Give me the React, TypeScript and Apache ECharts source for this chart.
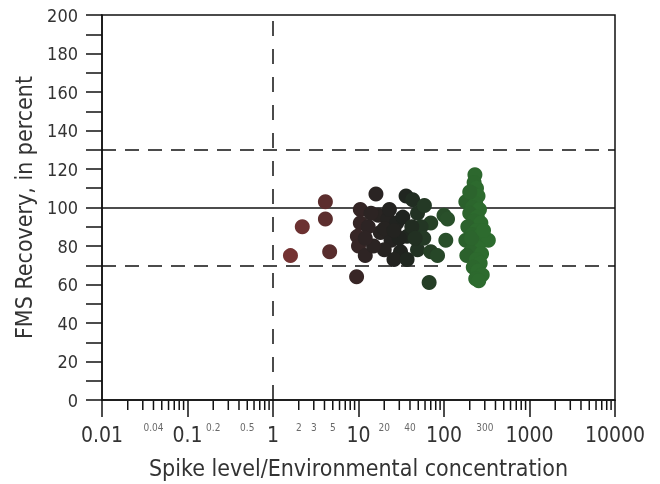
import React, { useEffect, useRef } from "react";
import * as echarts from "echarts";

const FONT = '"Liberation Sans Narrow", "DejaVu Sans Condensed", "Roboto Condensed", "Noto Sans", sans-serif';

// Spike level / environmental concentration ratio and FMS recovery (percent)
const lowRatio = [1.6, 2.2, 4.1, 4.1, 4.6];
const lowRecovery = [75, 90, 103, 94, 77];

const midRatio = [9.5, 16, 10.5, 10.5, 9.7, 10, 12, 17, 22, 28, 18, 24, 20, 31, 37, 15, 26, 37, 13, 14, 20, 23, 30, 33, 26, 12];
const midRecovery = [64, 107, 99, 92, 85, 80, 75, 96, 94, 92, 87, 83, 78, 77, 85, 80, 73, 73, 90, 97, 89, 99, 84, 95, 88, 84];

const upperRatio = [36, 43, 49, 59, 70, 54, 49, 70, 100, 105, 67, 84, 58, 110, 42, 46];
const upperRecovery = [106, 104, 97, 101, 92, 90, 78, 77, 96, 83, 61, 75, 84, 94, 90, 84];

const highRatio = [230, 225, 240, 220, 250, 180, 235, 215, 260, 200, 245, 225, 270, 190, 240, 215, 260, 180, 330, 230, 250, 205, 275, 185, 240, 265, 220, 250, 280, 235, 255, 210, 290, 200];
const highRecovery = [117, 113, 110, 107, 106, 103, 102, 100, 99, 97, 95, 93, 92, 90, 88, 86, 85, 83, 83, 81, 79, 77, 76, 75, 73, 71, 69, 67, 65, 63, 62, 84, 88, 108];

const minorLabelValues = [0.04, 0.2, 0.5, 2, 3, 5, 20, 40, 300];
const minorLabelTexts = ["0.04", "0.2", "0.5", "2", "3", "5", "20", "40", "300"];

const decades = [0.01, 0.1, 1, 10, 100, 1000];
const minorMultipliers = [2, 3, 4, 5, 6, 7, 8, 9];

const refRecovery = 100;
const limitHigh = 130;
const limitLow = 70;
const refRatio = 1;

export default function App() {
  const ref = useRef<HTMLDivElement>(null);
  useEffect(() => {
    const chart = echarts.init(ref.current!, null, { renderer: "svg" });
    const ratios = [...lowRatio, ...midRatio, ...upperRatio, ...highRatio];
    const recs = [...lowRecovery, ...midRecovery, ...upperRecovery, ...highRecovery];
    const points = ratios.map((x, i) => [x, recs[i], Math.log10(x)]);
    const minorTicks: number[][] = [];
    decades.forEach((d) => minorMultipliers.forEach((m) => minorTicks.push([d * m, 0])));

    const option: any = {
      animation: false,
      textStyle: { fontFamily: FONT },
      grid: {
        left: 102,
        top: 15,
        right: 45,
        bottom: 84,
        show: true,
        borderColor: "#111",
        borderWidth: 1.5,
        containLabel: false,
        outerBoundsMode: "none",
      },
      visualMap: {
        type: "continuous",
        show: false,
        seriesIndex: 0,
        dimension: 2,
        min: 0.2,
        max: 2.4,
        inRange: { color: ["#743232", "#5a2e2e", "#2e2424", "#1f231f", "#284a29", "#2d6b2e"] },
      },
      xAxis: {
        type: "log",
        logBase: 10,
        min: 0.01,
        max: 10000,
        name: "Spike level/Environmental concentration",
        nameLocation: "middle",
        nameGap: 56,
        nameTextStyle: { fontSize: 23, color: "#333", fontFamily: FONT },
        axisLine: { show: true, onZero: false, lineStyle: { color: "#111", width: 1.5 } },
        axisTick: { show: true, length: 17, lineStyle: { color: "#111", width: 1.5 } },
        axisLabel: {
          fontSize: 21,
          color: "#333",
          margin: 24,
          fontFamily: FONT,
          formatter: (v: number) => String(Number(v.toPrecision(6))),
        },
        splitLine: { show: false },
      },
      yAxis: {
        type: "value",
        min: 0,
        max: 200,
        interval: 10,
        name: "FMS Recovery, in percent",
        nameLocation: "middle",
        nameGap: 67,
        nameRotate: 90,
        nameTextStyle: { fontSize: 23, color: "#333", fontFamily: FONT },
        axisLine: { show: true, lineStyle: { color: "#111", width: 1.5 } },
        axisTick: { show: true, length: 16, lineStyle: { color: "#111", width: 1.5 } },
        axisLabel: {
          fontSize: 18,
          color: "#333",
          margin: 24,
          fontFamily: FONT,
          formatter: (v: number) => (v % 20 === 0 ? String(v) : ""),
        },
        splitLine: { show: false },
      },
      series: [
        {
          type: "scatter",
          z: 5,
          symbol: "circle",
          symbolSize: 15,
          itemStyle: { opacity: 1 },
          data: points,
          silent: true,
        },
        {
          type: "scatter",
          z: 2,
          data: [],
          silent: true,
          markLine: {
            silent: true,
            symbol: ["none", "none"],
            label: { show: false },
            data: [
              { yAxis: refRecovery, lineStyle: { type: "solid", width: 1.5, color: "#111" } },
              { yAxis: limitHigh, lineStyle: { type: [14, 9], width: 1.5, color: "#111" } },
              { yAxis: limitLow, lineStyle: { type: [14, 9], width: 1.5, color: "#111" } },
              { xAxis: refRatio, lineStyle: { type: [15, 13], width: 1.5, color: "#111" } },
            ],
          },
        },
        {
          type: "scatter",
          z: 3,
          clip: false,
          silent: true,
          symbol: "rect",
          symbolSize: [1.5, 9],
          symbolOffset: [0, 5.5],
          itemStyle: { color: "#111", opacity: 1 },
          data: minorTicks,
        },
        {
          type: "scatter",
          z: 3,
          clip: false,
          silent: true,
          symbolSize: 1,
          itemStyle: { color: "rgba(0,0,0,0)" },
          label: {
            show: true,
            position: "bottom",
            distance: 22,
            fontSize: 10,
            color: "#444",
            fontFamily: FONT,
            formatter: "{b}",
          },
          data: minorLabelValues.map((v, i) => ({ name: minorLabelTexts[i], value: [v, 0] })),
        },
      ],
    };
    chart.setOption(option);
    return () => chart.dispose();
  }, []);
  return <div ref={ref} style={{ position: "fixed", left: 0, top: 0, width: 660, height: 484 }} />;
}
